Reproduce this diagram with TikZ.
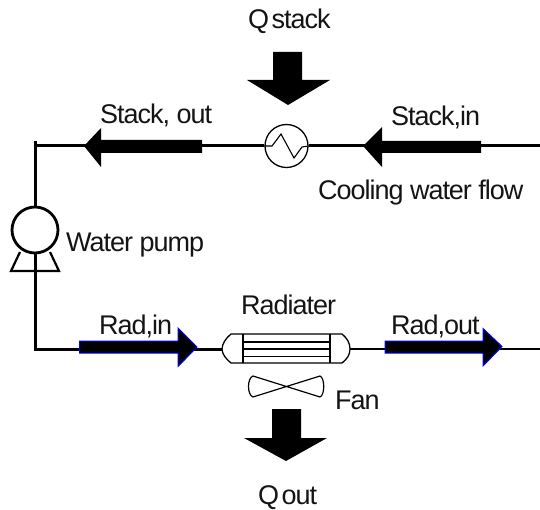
\documentclass[tikz,border=0pt]{standalone}
\usepackage{fontspec}
\setmainfont[LetterSpace=-3.8]{Liberation Sans}
\tikzset{
  px/.style={x=1pt,y=-1pt},
  lab/.style={inner sep=0pt,font=\fontsize{27}{32}\selectfont,text=black!92,anchor=base west},
  pipe/.style={line width=3pt,draw=black},
  thin pipe/.style={line width=1.3pt,draw=black},
  equip/.style={line width=1.3pt,draw=black,fill=white},
  flow/.style={fill=black,draw=none},
  bflow/.style={fill=black,draw=blue,line width=1pt},
  heavy/.style={fill=black,draw=none}
}
\begin{document}
\begin{tikzpicture}[px]
\useasboundingbox (0,0) rectangle (540,510);
\coordinate (corner) at (35,146);
\coordinate (cornerb) at (35,349.5);
\coordinate (top) at (35,141);
\coordinate (eastin) at (540,146);
\coordinate (eastout) at (540,349);
\node[circle,minimum size=43pt,inner sep=0pt,line width=1.3pt,draw=black,fill=white] (hx) at (286.5,146) {};
\node[circle,minimum size=46pt,inner sep=0pt,line width=2.8pt,draw=black] (pump) at (35,230) {};
\coordinate (radl) at (222,349.5);
\coordinate (radr) at (350,349);
% pipes
\draw[pipe] (eastin) -- (hx.east);
\draw[pipe] (hx.west) -- (corner);
\draw[pipe,line cap=butt] (top) -- (pump.north);
\draw[pipe] (pump.south) -- (cornerb) -- (radl);
\draw[thin pipe] (radr) -- (eastout);
% pump stand
\draw[line width=2.2pt] (20,252) -- (11,271) -- (59,271) -- (50,252);
% exchanger zigzag
\draw[line width=1.1pt] (hx.west) -- (272,146) -- (281,134) -- (294,158) -- (302,147) -- (hx.east);
% radiator
\draw[equip] (231,334) -- (342,334) .. controls (347,338) and (350,343) .. (350,349) .. controls (350,355) and (347,359) .. (342,363) -- (231,363) .. controls (226,359) and (222,354) .. (222,349) .. controls (222,344) and (226,338) .. (231,334) -- cycle;
\draw[line width=1.3pt] (243,334) -- (243,363);
\draw[line width=1.3pt] (330,334) -- (330,363);
\draw[line width=1.1pt] (243,342) -- (330,342) (243,349) -- (330,349) (243,356.5) -- (330,356.5);
% fan
\draw[line width=1.2pt,line join=round] (253,376) .. controls (247,378) and (247,395) .. (253,397) -- (320,376) .. controls (325,378) and (325,395) .. (320,397) -- cycle;
% flow arrows
\fill[flow] (481,141) -- (382,141) -- (382,127) -- (363,146) -- (382,167) -- (382,153) -- (481,153) -- cycle;
\fill[flow] (202,140) -- (101,140) -- (101,128) -- (84,146) -- (101,167) -- (101,153) -- (202,153) -- cycle;
\draw[bflow] (79.5,341) -- (178,341) -- (178,328) -- (197,347) -- (178,366.5) -- (178,353) -- (79.5,353) -- cycle;
\draw[bflow] (385,341) -- (483,341) -- (483,328.5) -- (502,346.5) -- (483,366) -- (483,353) -- (385,353) -- cycle;
% heat arrows
\fill[heavy] (273,52) -- (302,52) -- (302,80) -- (330,80) -- (288,105) -- (247,80) -- (273,80) -- cycle;
\fill[heavy] (272,409) -- (301,409) -- (301,438) -- (327,438) -- (286,461) -- (244,438) -- (272,438) -- cycle;
% labels
\node[lab] (qs) at (248,29) {Q\hspace{-4pt} stack};
\node[lab] (so) at (100,124) {Stack, out};
\node[lab] (si) at (391,126) {Stack,in};
\node[lab] (cw) at (318,200) {Cooling water flow};
\node[lab] (wp) at (66,252) {Water pump};
\node[lab] (ri) at (99,334) {Rad,in};
\node[lab] (ra) at (241,314) {Radiater};
\node[lab] (ro) at (391,334) {Rad,out};
\node[lab] (fa) at (335,409) {Fan};
\node[lab] (qo) at (258,504) {Q\hspace{-4pt} out};
\end{tikzpicture}
\end{document}
